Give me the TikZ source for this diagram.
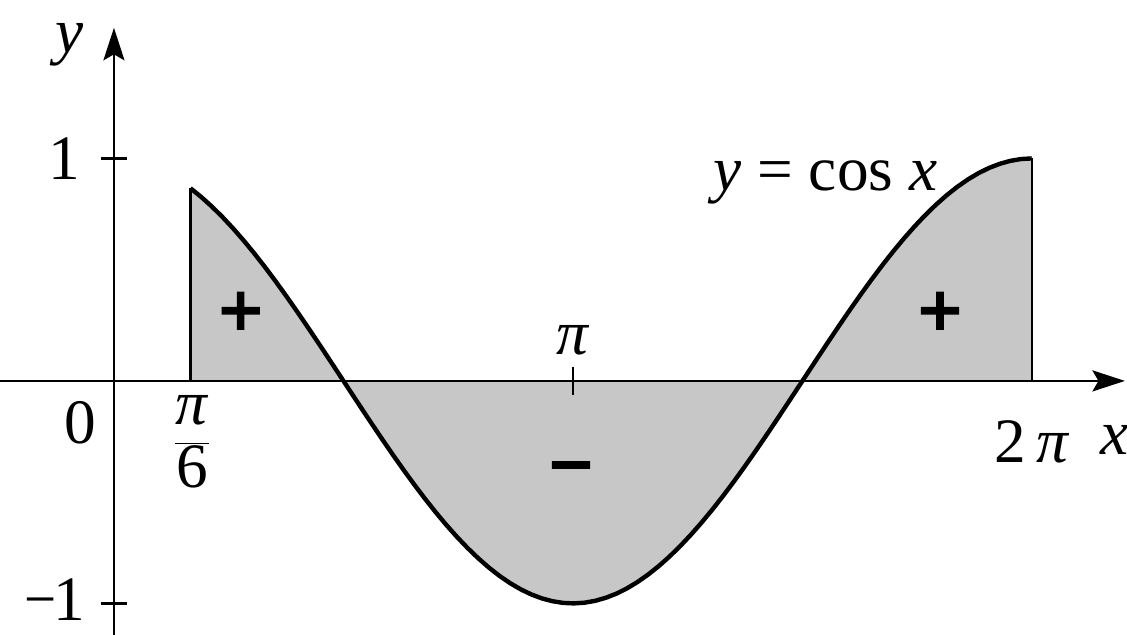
\documentclass[tikz,border=0pt]{standalone}
\usepackage{fontspec}
\setmainfont{Liberation Serif}
\newfontface\signfont[RawFeature={embolden=3}]{Liberation Serif Bold}
\usetikzlibrary{arrows.meta}

\begin{document}
\begin{tikzpicture}[x=2.922cm, y=4.45cm, >={Stealth[length=6.5mm,width=4.2mm,inset=1.2mm]},
  every node/.style={font=\fontsize{36}{40}\selectfont, inner sep=1pt},
  sign/.style={font=\fontsize{44}{48}\signfont},
  axis/.style={line width=1.4pt}]
\useasboundingbox (-0.780,-1.1416) rectangle (6.934,1.712);
% shaded area under y = cos x
\fill[black!22] (pi/6,0) -- plot[domain=pi/6:2*pi, samples=80] (\x,{cos(\x r)}) -- (2*pi,0) -- cycle;
\draw[axis] (pi/6,0) -- (pi/6,{cos(30)});
\draw[axis] (2*pi,0) -- (2*pi,1);
% axes
\draw[axis,->] (-0.80,0) -- (6.92,0);
\draw[axis,->] (0,-1.16) -- (0,1.587);
\draw[axis] (-0.089,1) -- (0.089,1);
\draw[axis] (-0.089,-1) -- (0.089,-1);
\draw[axis] (pi,-0.063) -- (pi,0.063);
% curve
\draw[line width=2.5pt] plot[domain=pi/6:2*pi, samples=80] (\x,{cos(\x r)});
% labels
\node (ylab) at (-0.301,1.510) {\textit{y}};
\node[anchor=east] (one) at (-0.219,1) {1};
\node (zero) at (-0.233,-0.189) {0};
\node[anchor=east, inner sep=0pt] (mone) at (-0.195,-0.985) {\scalebox{0.9}[1]{−}\kern-2pt 1};
\node (pisix) at (0.534,-0.275) {$\displaystyle\frac{\mbox{\textit{π}}}{\mbox{6}}$};
\node (pilab) at (pi,0.184) {\textit{π}};
\node (twopi) at (2*pi,-0.274) {2\,\textit{π}};
\node (xlab) at (6.852,-0.265) {\textit{x}};
\node (curvelab) at (4.87,0.890) {\textit{y} = cos \textit{x}};
\node[sign] (plusl) at (0.867,0.298) {+};
\node[sign] (plusr) at (5.654,0.298) {+};
\node[sign] (minus) at (3.128,-0.43) {−};
\end{tikzpicture}
\end{document}
